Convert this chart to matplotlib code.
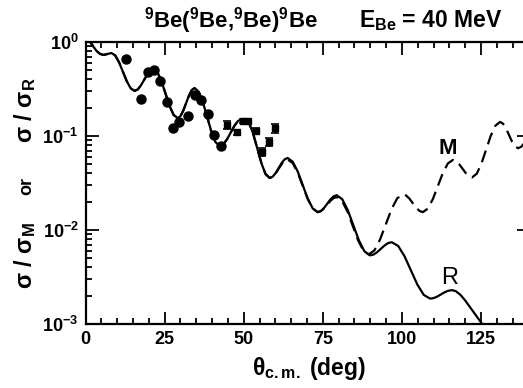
import numpy as np
import matplotlib
matplotlib.use("Agg")
import matplotlib.pyplot as plt
from matplotlib.ticker import LogLocator, MultipleLocator, NullFormatter

plt.rcParams['font.family'] = ['Liberation Sans', 'DejaVu Sans']
plt.rcParams['font.weight'] = 'bold'
plt.rcParams['mathtext.fontset'] = 'custom'
plt.rcParams['mathtext.rm'] = 'Liberation Sans:bold'
plt.rcParams['mathtext.it'] = 'Liberation Sans:bold'
plt.rcParams['mathtext.default'] = 'rm'

# measured angular distribution 9Be + 9Be, 40 MeV
# first run (circles)
theta_a = [12.9, 17.6, 19.6, 21.6, 23.6, 25.7, 27.8, 29.7, 32.4, 34.6, 36.6,
           38.7, 40.7, 42.8]
ratio_a = [0.655, 0.246, 0.48, 0.50, 0.385, 0.232, 0.123, 0.14, 0.164, 0.27, 0.242,
           0.172, 0.102, 0.079]
err_a = [0.04, 0.04, 0.04, 0.04, 0.04, 0.04, 0.05, 0.05, 0.05, 0.04, 0.04,
         0.05, 0.05, 0.06]
# second run (squares)
theta_b = [44.6, 47.8, 49.8, 51.3, 53.8, 55.7, 58.1, 59.9]
ratio_b = [0.131, 0.11, 0.1445, 0.1445, 0.113, 0.068, 0.087, 0.121]
err_b = [0.10, 0.06, 0.06, 0.06, 0.08, 0.10, 0.10, 0.11]

# both calculations coincide at forward angles (log10 of ratio)
theta_fwd = [0.5, 1.5, 2.5, 3.5, 4.5, 5.7, 7.0, 8.2, 9.42, 10.63, 11.85, 13.07, 14.28,
             15.5, 16.5, 17.5, 18.5, 19.5, 20.5, 21.5, 22.77, 24.03, 25.3, 26.57, 27.83,
             29.1, 30.0, 30.9, 31.8, 32.7, 33.6, 34.5, 35.82, 37.13, 38.45, 39.77, 41.08,
             42.4, 43.57, 44.73, 45.9, 47.07, 48.23, 49.4, 50.4, 51.7, 53.0, 54.3, 55.6,
             56.9, 58.2]
log_fwd = [0.07, 0.0, -0.05, -0.095, -0.125, -0.138, -0.127, -0.117, -0.144, -0.218,
           -0.3185, -0.419, -0.493, -0.52, -0.505, -0.4625, -0.405, -0.3475, -0.305,
           -0.29, -0.325, -0.42, -0.55, -0.68, -0.775, -0.81, -0.789, -0.73, -0.65,
           -0.57, -0.511, -0.49, -0.531, -0.644, -0.798, -0.952, -1.065, -1.106, -1.087,
           -1.035, -0.963, -0.891, -0.839, -0.82, -0.82, -0.862, -0.977, -1.134, -1.29,
           -1.405, -1.447]

# sigma/sigma_R beyond 58 deg
theta_R = [59.15, 60.1, 61.05, 62.0, 62.95, 63.9, 65.48, 67.07, 68.65, 70.23, 71.82,
           73.4, 74.4, 75.4, 76.4, 77.4, 78.4, 79.4, 81.15, 82.9, 84.65, 86.4, 88.15,
           89.9, 91.05, 92.2, 93.35, 94.5, 95.65, 96.8, 98.82, 100.83, 102.85, 104.87,
           106.88, 108.9, 110.05, 111.2, 112.35, 113.5, 114.65, 115.8, 117.0, 118.5,
           120.0, 121.5, 123.0, 124.5, 126.0]
logR = [-1.433, -1.394, -1.34, -1.287, -1.248, -1.234, -1.273, -1.378, -1.522, -1.666,
        -1.771, -1.81, -1.798, -1.765, -1.72, -1.675, -1.642, -1.63, -1.673, -1.79,
        -1.95, -2.11, -2.227, -2.27, -2.261, -2.235, -2.2, -2.165, -2.139, -2.13, -2.17,
        -2.28, -2.43, -2.58, -2.69, -2.73, -2.724, -2.7075, -2.685, -2.6625, -2.646,
        -2.64, -2.65, -2.69, -2.75, -2.82, -2.89, -2.96, -3.03]

# sigma/sigma_M beyond 58 deg
theta_M = [59.15, 60.1, 61.05, 62.0, 62.95, 63.9, 65.48, 67.07, 68.65, 70.23, 71.82,
           73.4, 74.4, 75.4, 76.4, 77.4, 78.4, 79.4, 81.08, 82.77, 84.45, 86.13, 87.82,
           89.5, 91.3, 93.1, 94.9, 96.7, 98.5, 100.3, 101.35, 102.4, 103.45, 104.5,
           105.55, 106.6, 108.18, 109.77, 111.35, 112.93, 114.52, 116.1, 117.12, 118.13,
           119.15, 120.17, 121.18, 122.2, 123.67, 125.13, 126.6, 128.07, 129.53, 131.0,
           131.95, 132.9, 133.85, 134.8, 135.75, 136.7, 137.7, 138.7, 139.7, 140.7]
logM = [-1.434, -1.398, -1.348, -1.299, -1.263, -1.25, -1.288, -1.39, -1.53, -1.67,
        -1.772, -1.81, -1.799, -1.77, -1.73, -1.69, -1.661, -1.65, -1.691, -1.803,
        -1.955, -2.108, -2.219, -2.26, -2.217, -2.1, -1.94, -1.78, -1.663, -1.62, -1.633,
        -1.6675, -1.715, -1.7625, -1.797, -1.81, -1.773, -1.671, -1.533, -1.394, -1.292,
        -1.255, -1.267, -1.301, -1.348, -1.394, -1.428, -1.44, -1.4, -1.293, -1.145,
        -0.998, -0.89, -0.85, -0.869, -0.92, -0.99, -1.06, -1.111, -1.13, -1.115, -1.075,
        -1.03, -0.99]

fig = plt.figure(figsize=(5.23, 3.88), dpi=100)
ax = fig.add_axes([85.5 / 523, 64 / 388, 443 / 523, 282 / 388])

xR = theta_fwd + theta_R
yR = 10.0 ** np.array(log_fwd + logR)
xM = theta_fwd + theta_M
yM = 10.0 ** np.array(log_fwd + logM)
ax.plot(xR, yR, color='black', lw=1.6, solid_joinstyle='round')
ax.plot(xM, yM, color='black', lw=1.6, ls=(0, (5.5, 3)))

ax.errorbar(theta_a, ratio_a, yerr=np.array(ratio_a) * np.array(err_a), fmt='o',
            color='black', ms=6.5, capsize=2.5, elinewidth=1, capthick=1)
ax.errorbar(theta_b, ratio_b, yerr=np.array(ratio_b) * np.array(err_b), fmt='s',
            color='black', ms=5, capsize=3, elinewidth=1, capthick=1.2)

ax.text(114.5, 0.0745, 'M', fontsize=16, ha='center', va='center')
ax.text(115.2, 0.00306, 'R', fontsize=17, ha='center', va='center', fontweight='normal')

ax.set_yscale('log')
ax.set_xlim(0, 140)
ax.set_ylim(1e-3, 1)
ax.xaxis.set_major_locator(MultipleLocator(25))
ax.xaxis.set_minor_locator(MultipleLocator(5))
ax.yaxis.set_major_locator(LogLocator(base=10))
ax.yaxis.set_minor_locator(LogLocator(base=10, subs=np.arange(2, 10)))
ax.yaxis.set_minor_formatter(NullFormatter())
ax.tick_params(which='both', direction='in', top=True, right=True, width=1.3)
ax.tick_params(which='major', length=9, labelsize=13, pad=5)
ax.tick_params(which='minor', length=4.5)
for s in ax.spines.values():
    s.set_linewidth(1.6)

fig.text(309 / 523, 6 / 388, r'$\theta_{\rm c.m.}$ (deg)', fontsize=16.5,
         ha='center', va='bottom')

# y label in three pieces
fig.text(25 / 523, 1 - 256 / 388, r'σ / σ$_{\rm M}$', rotation=90, fontsize=17,
         ha='center', va='center')
fig.text(27 / 523, 1 - 186 / 388, 'or', rotation=90, fontsize=13,
         ha='center', va='center')
fig.text(25 / 523, 1 - 110 / 388, r'σ / σ$_{\rm R}$', rotation=90, fontsize=17,
         ha='center', va='center')

fig.text(231 / 523, 1 - 21 / 388, r'$^{9}$Be($^{9}$Be,$^{9}$Be)$^{9}$Be', fontsize=16,
         ha='center', va='center')
fig.text(431 / 523, 1 - 21 / 388, r'E$_{\rm Be}$ = 40 MeV', fontsize=16.5,
         ha='center', va='center')

fig.savefig('out.png', dpi=100)
